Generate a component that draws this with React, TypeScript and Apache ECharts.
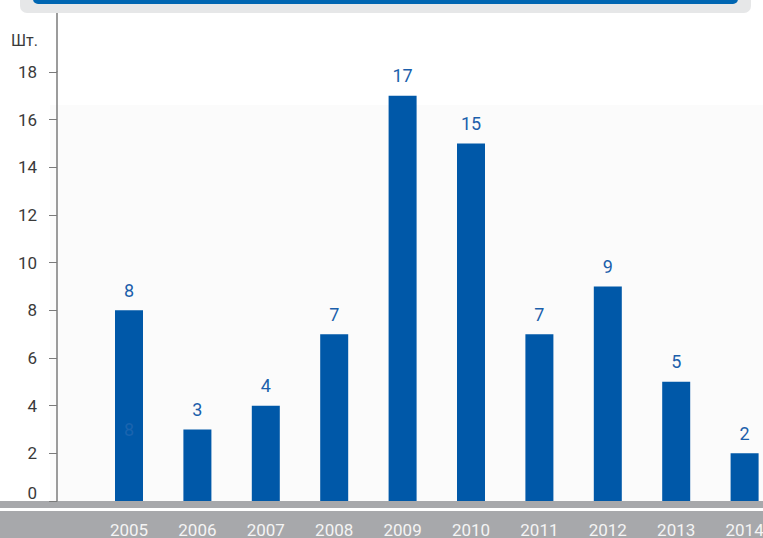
import React, { useEffect, useRef } from "react";
import * as echarts from "echarts";

const years = ["2005", "2006", "2007", "2008", "2009", "2010", "2011", "2012", "2013", "2014"];
const counts = [8, 3, 4, 7, 17, 15, 7, 9, 5, 2];
const yMax = 18;
const yStep = 2;
const unitLabel = "Шт.";

const FONT = "Roboto, 'Liberation Sans', Arial, sans-serif";

export default function App() {
  const ref = useRef<HTMLDivElement>(null);
  useEffect(() => {
    if (!ref.current) return;
    const chart = echarts.init(ref.current, null, { renderer: "svg" });
    chart.setOption({
      animation: false,
      backgroundColor: "#ffffff",
      grid: { left: 94.8, width: 684, top: 72, bottom: 37, containLabel: false, outerBoundsMode: "none" },
      xAxis: {
        type: "category",
        data: years,
        axisLine: { show: false },
        axisTick: { show: false },
        axisLabel: { color: "#f4f4f4", fontSize: 17, fontFamily: FONT, margin: 20 },
      },
      yAxis: {
        type: "value",
        min: 0,
        max: yMax,
        interval: yStep,
        offset: 37.8,
        splitLine: { show: false },
        axisLine: { show: true, lineStyle: { color: "#7b7b7b", width: 1.5 } },
        axisTick: { show: true, length: 8, lineStyle: { color: "#7b7b7b", width: 1 } },
        axisLabel: {
          color: "#3a3a3a",
          fontSize: 17,
          fontFamily: FONT,
          margin: 20,
          verticalAlignMinLabel: "bottom",
        },
      },
      graphic: [
        { type: "rect", z: -1, shape: { x: 20, y: -20, width: 731, height: 33, r: 7 }, style: { fill: "#e6e7e8" } },
        { type: "rect", z: -1, shape: { x: 33, y: -10, width: 705, height: 14, r: 5 }, style: { fill: "#0066b2" } },
        { type: "rect", z: -2, shape: { x: 50, y: 105, width: 713, height: 396 }, style: { fill: "#fbfbfb" } },
        { type: "line", z: 1, shape: { x1: 57, y1: 13, x2: 57, y2: 72 }, style: { stroke: "#7b7b7b", lineWidth: 1.5 } },
        { type: "rect", z: -1, shape: { x: 0, y: 501, width: 763, height: 7 }, style: { fill: "#a7a8ab" } },
        { type: "rect", z: -1, shape: { x: 0, y: 511, width: 763, height: 27 }, style: { fill: "#a7a8ab" } },
        {
          type: "text",
          x: 38,
          y: 40,
          style: { text: unitLabel, fill: "#3a3a3a", font: `16px ${FONT}`, textAlign: "right", textVerticalAlign: "middle" },
        },
      ],
      series: [
        {
          type: "bar",
          data: counts,
          barWidth: 28,
          itemStyle: { color: "#0058a8" },
          label: {
            show: true,
            position: "top",
            distance: 11,
            color: "#1b5fab",
            fontSize: 18,
            fontFamily: FONT,
          },
          markPoint: {
            symbol: "circle",
            symbolSize: 2,
            itemStyle: { color: "rgba(0,0,0,0)" },
            data: [{ coord: [years[0], 3], value: counts[0] }],
            label: { show: true, position: "inside", color: "#1a64af", fontSize: 18, fontFamily: FONT },
          },
        },
      ],
    });
    return () => chart.dispose();
  }, []);
  return <div ref={ref} style={{ position: "fixed", left: 0, top: 0, width: 763, height: 538 }} />;
}
